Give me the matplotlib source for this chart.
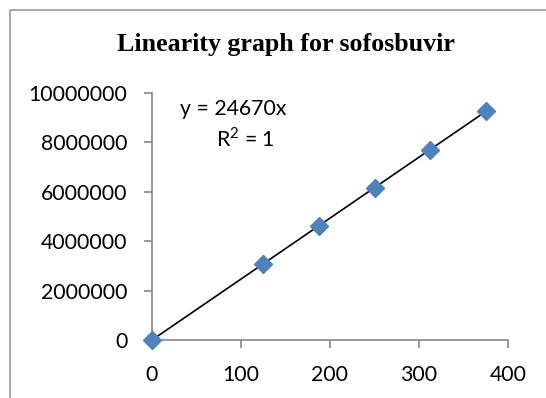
import matplotlib
matplotlib.use("Agg")
import matplotlib.pyplot as plt
from matplotlib.patches import Rectangle

# concentration (x) and peak area (y)
conc = [0, 125, 187.5, 250, 312.5, 375]
area = [0, 3083750, 4625625, 6167500, 7709375, 9251250]
slope = 24670
x_ticks = [0, 100, 200, 300, 400]
y_ticks = [0, 2000000, 4000000, 6000000, 8000000, 10000000]

plt.rcParams["mathtext.fontset"] = "custom"
plt.rcParams["mathtext.rm"] = "Lato"

fig = plt.figure(figsize=(5.46, 3.98), dpi=100)
fig.patch.set_facecolor("white")

# chart frame (runs off the right and bottom edges like the source)
fig.patches.append(Rectangle((10 / 546, -0.1), 1.2, 1 - 10 / 398 + 0.1,
                             transform=fig.transFigure, fill=False,
                             edgecolor="#9a9a9a", linewidth=1.2))

ax = fig.add_axes([152 / 546, 1 - 340 / 398, 356 / 546, 247 / 398])

fit_x = [conc[0], conc[-1]]
fit_y = [slope * v for v in fit_x]
ax.plot(fit_x, fit_y, color="black", linewidth=1.2, zorder=2)
ax.plot(conc, area, linestyle="none", marker="D", markersize=9,
        color="#4F81BD", markeredgecolor="#4F81BD", zorder=3, clip_on=False)

ax.set_xlim(0, 400)
ax.set_ylim(0, 10000000)
ax.set_xticks(x_ticks)
ax.set_yticks(y_ticks)
ax.set_xticklabels([str(t) for t in x_ticks])
ax.set_yticklabels([str(t) for t in y_ticks])

for side in ["top", "right"]:
    ax.spines[side].set_visible(False)
for side in ["left", "bottom"]:
    ax.spines[side].set_color("#868686")
    ax.spines[side].set_linewidth(1.2)

lab_font = {"family": "Lato", "size": 15.3}
ax.tick_params(axis="both", direction="out", length=5.8, width=1.2, color="#868686")
ax.tick_params(axis="x", pad=12.5)
ax.tick_params(axis="y", pad=12)
for lbl in ax.get_xticklabels() + ax.get_yticklabels():
    lbl.set_fontfamily("Lato")
    lbl.set_fontsize(15.3)

ax.text(0.08, 0.935, "y = 24670x", transform=ax.transAxes, ha="left", va="center",
        fontdict=lab_font)
ax.text(0.18, 0.815, r"R$^{\mathrm{2}}$ = 1", transform=ax.transAxes,
        ha="left", va="center", fontdict=lab_font)

fig.text(286 / 546, 1 - 44 / 398, "Linearity graph for sofosbuvir",
         ha="center", va="center", family="Liberation Serif",
         fontweight="bold", fontsize=18.7)

fig.savefig("out.png", dpi=100)
